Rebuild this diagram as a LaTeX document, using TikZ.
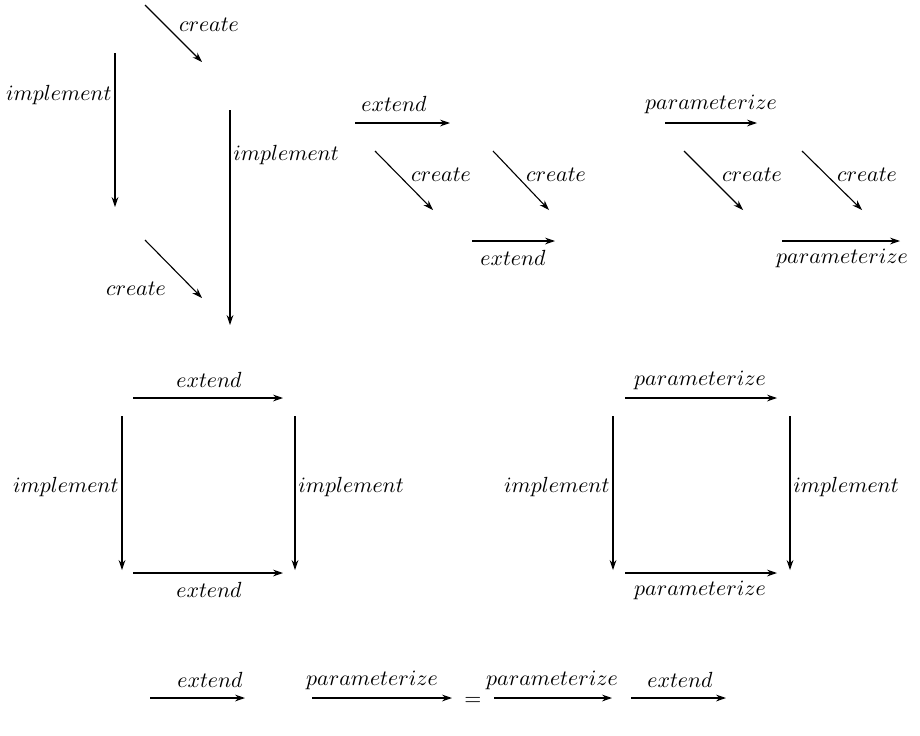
\documentclass[tikz,border=0pt]{standalone}
\usetikzlibrary{arrows.meta}
\begin{document}
\begin{tikzpicture}[x=0.5pt,y=-0.5pt,
  arr/.style={-{Stealth[length=5pt,width=3.4pt]}, line width=0.55pt},
  lbl/.style={font=\fontsize{11}{13}\selectfont, inner sep=1pt}]
\useasboundingbox (0,0) rectangle (920,735);

% ---------- top-left group ----------
\coordinate (c1s) at (145,5);   \coordinate (c1e) at (202,62);
\coordinate (i1s) at (115,53);  \coordinate (i1e) at (115,207);
\coordinate (i2s) at (230,110); \coordinate (i2e) at (230,325);
\coordinate (c2s) at (145,240); \coordinate (c2e) at (202,298);
\draw[arr] (c1s) -- (c1e);
\draw[arr] (i1s) -- (i1e);
\draw[arr] (i2s) -- (i2e);
\draw[arr] (c2s) -- (c2e);
\node[lbl] (lc1) at (209,25) {$create$};
\node[lbl,anchor=east] (li1) at (114,95) {$implement$};
\node[lbl,anchor=west] (li2) at (231,155) {$implement$};
\node[lbl] (lc2) at (136,289) {$create$};

% ---------- top-middle group ----------
\coordinate (e1s) at (355,123); \coordinate (e1e) at (450,123);
\coordinate (c3s) at (375,151); \coordinate (c3e) at (433,210);
\coordinate (c4s) at (493,151); \coordinate (c4e) at (549,210);
\coordinate (e2s) at (472,241); \coordinate (e2e) at (555,241);
\draw[arr] (e1s) -- (e1e);
\draw[arr] (c3s) -- (c3e);
\draw[arr] (c4s) -- (c4e);
\draw[arr] (e2s) -- (e2e);
\node[lbl] (le1) at (394,104) {$extend$};
\node[lbl] (lc3) at (441,175) {$create$};
\node[lbl] (lc4) at (556,175) {$create$};
\node[lbl] (le2) at (513,258) {$extend$};

% ---------- top-right group ----------
\coordinate (p1s) at (665,123); \coordinate (p1e) at (757,123);
\coordinate (c5s) at (684,151); \coordinate (c5e) at (743,210);
\coordinate (c6s) at (802,151); \coordinate (c6e) at (862,210);
\coordinate (p2s) at (782,241); \coordinate (p2e) at (900,241);
\draw[arr] (p1s) -- (p1e);
\draw[arr] (c5s) -- (c5e);
\draw[arr] (c6s) -- (c6e);
\draw[arr] (p2s) -- (p2e);
\node[lbl] (lp1) at (711,104) {$parameterize$};
\node[lbl] (lc5) at (752,175) {$create$};
\node[lbl] (lc6) at (867,175) {$create$};
\node[lbl] (lp2) at (842,258) {$parameterize$};

% ---------- left square ----------
\coordinate (sa) at (133,398); \coordinate (sb) at (283,398);
\coordinate (sc) at (122,416); \coordinate (sd) at (122,570);
\coordinate (se) at (295,416); \coordinate (sf) at (295,570);
\coordinate (sg) at (133,573); \coordinate (sh) at (283,573);
\draw[arr] (sa) -- (sb);
\draw[arr] (sc) -- (sd);
\draw[arr] (se) -- (sf);
\draw[arr] (sg) -- (sh);
\node[lbl] (ls1) at (209,380) {$extend$};
\node[lbl,anchor=east] (ls2) at (121,487) {$implement$};
\node[lbl,anchor=west] (ls3) at (296,487) {$implement$};
\node[lbl] (ls4) at (209,590) {$extend$};

% ---------- right square ----------
\coordinate (ta) at (625,398); \coordinate (tb) at (777,398);
\coordinate (tc) at (613,416); \coordinate (td) at (613,570);
\coordinate (te) at (790,416); \coordinate (tf) at (790,570);
\coordinate (tg) at (625,573); \coordinate (th) at (777,573);
\draw[arr] (ta) -- (tb);
\draw[arr] (tc) -- (td);
\draw[arr] (te) -- (tf);
\draw[arr] (tg) -- (th);
\node[lbl] (lt1) at (700,380) {$parameterize$};
\node[lbl,anchor=east] (lt2) at (612,487) {$implement$};
\node[lbl,anchor=west] (lt3) at (791,487) {$implement$};
\node[lbl] (lt4) at (700,590) {$parameterize$};

% ---------- bottom equation ----------
\coordinate (b1s) at (150,698); \coordinate (b1e) at (245,698);
\coordinate (b2s) at (312,698); \coordinate (b2e) at (452,698);
\coordinate (b3s) at (494,698); \coordinate (b3e) at (612,698);
\coordinate (b4s) at (631,698); \coordinate (b4e) at (726,698);
\draw[arr] (b1s) -- (b1e);
\draw[arr] (b2s) -- (b2e);
\draw[arr] (b3s) -- (b3e);
\draw[arr] (b4s) -- (b4e);
\node[lbl] (lb1) at (210,680) {$extend$};
\node[lbl] (lb2) at (372,680) {$parameterize$};
\node[lbl] (lb3) at (552,680) {$parameterize$};
\node[lbl] (lb4) at (680,680) {$extend$};
\node[lbl] (eq) at (473,701) {$=$};
\end{tikzpicture}
\end{document}
